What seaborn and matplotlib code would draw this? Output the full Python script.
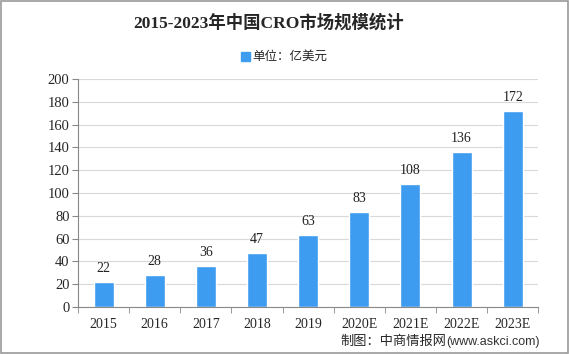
import pandas as pd
import seaborn as sns
import matplotlib.pyplot as plt
from matplotlib.patches import Rectangle

years = ["2015", "2016", "2017", "2018", "2019", "2020E", "2021E", "2022E", "2023E"]
values = [22, 28, 36, 47, 63, 83, 108, 136, 172]
yticks = list(range(0, 201, 20))

df = pd.DataFrame({"year": years, "value": values})

sns.set_style("white")
plt.rcParams['font.family'] = ['Liberation Serif', 'Noto Sans CJK SC', 'DejaVu Sans']

fig = plt.figure(figsize=(5.69, 3.54), dpi=100)
ax = fig.add_axes([0.137, 0.133, 0.809, 0.644])

sns.barplot(data=df, x="year", y="value", color="#3d9cf0", saturation=1, width=0.39, ax=ax)

for i, v in enumerate(values):
    ax.text(i, v + 12, str(v), ha="center", va="center", fontsize=10, color="#222222")

ax.set_ylim(0, 200)
ax.set_yticks(yticks)
ax.set_xlim(-0.5, len(years) - 0.5)
ax.yaxis.grid(True, color="#d9d9d9", linewidth=0.8)
ax.set_axisbelow(True)
ax.set_xlabel("")
ax.set_ylabel("")
for s in ["top", "right"]:
    ax.spines[s].set_visible(False)
for s in ["left", "bottom"]:
    ax.spines[s].set_color("#888888")
ax.tick_params(axis="y", labelsize=10.5, length=4, color="#888888", left=True, pad=2)
ax.tick_params(axis="x", labelsize=10, length=0, pad=8)
ax.set_xticks([i + 0.5 for i in range(-1, len(years))], minor=True)
ax.tick_params(axis="x", which="minor", length=4, color="#888888", bottom=True)

fig.text(0.472, 0.935, "2015-2023年中国CRO市场规模统计", ha="center", va="center",
         fontsize=12.5, fontweight="bold", family=['Liberation Serif', 'Noto Sans CJK SC'])
fig.patches.append(Rectangle((0.424, 0.827), 0.016, 0.026, transform=fig.transFigure,
                             color="#3d9cf0", figure=fig))
fig.text(0.443, 0.84, "单位：亿美元", ha="left", va="center", fontsize=9,
         family=['Noto Sans CJK SC', 'DejaVu Sans'])
fig.text(0.784, 0.035, "制图：中商情报网", ha="right", va="center", fontsize=9.5,
         family=['Noto Sans CJK SC', 'DejaVu Sans'])
fig.text(0.784, 0.035, "(www.askci.com)", ha="left", va="center", fontsize=9,
         family=['Liberation Sans'], color="#333333")
fig.patches.append(Rectangle((0.001, 0.002), 0.997, 0.995, transform=fig.transFigure,
                             fill=False, edgecolor="#999999", linewidth=1.2, figure=fig))

fig.savefig("out.png", dpi=100)
